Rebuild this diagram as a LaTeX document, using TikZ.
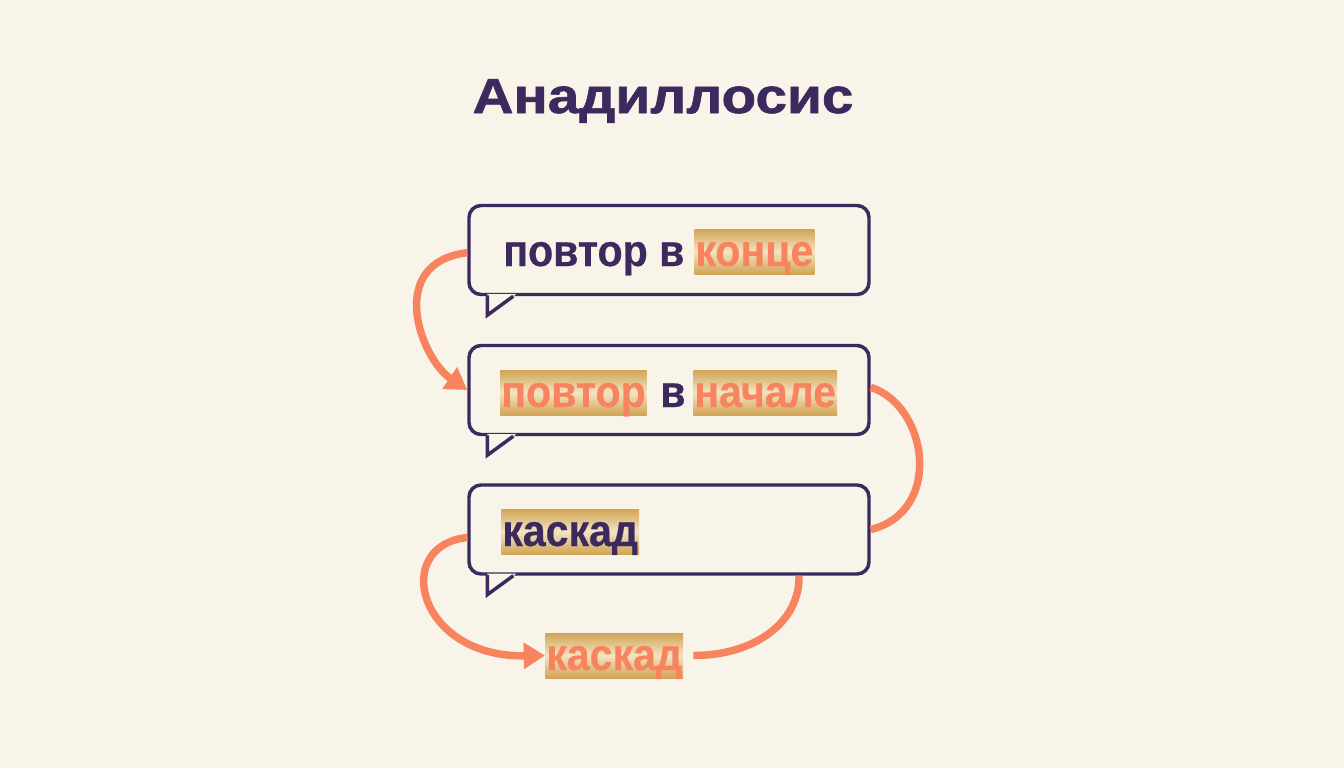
\documentclass[tikz,border=0pt]{standalone}
\usepackage{fontspec}
\setmainfont{Liberation Sans}
\newfontfamily\titlefont{Liberation Sans Bold}[FakeStretch=1.15,FakeBold=1.2]
\newfontfamily\boxfont{Liberation Sans Bold}[FakeStretch=0.92,FakeBold=0.5]
\usetikzlibrary{positioning,arrows.meta}

\definecolor{bgcol}{HTML}{F8F4E9}
\definecolor{ink}{HTML}{3C2A5E}
\definecolor{coral}{HTML}{F7845E}
\definecolor{gold}{HTML}{D1A455}
\definecolor{goldlight}{HTML}{F3E4C2}

\tikzset{
  bubble/.style={draw=ink,line width=2.6pt,rounded corners=9pt,fill=bgcol,
    minimum width=300pt,minimum height=66.75pt,inner sep=0pt},
  word/.style={text=ink,font=\boxfont\fontsize{33.5}{35}\selectfont,
    inner xsep=0.75pt,inner ysep=0pt,text height=27.75pt,text depth=6pt},
  hlword/.style={word,text=coral,top color=gold,bottom color=gold,middle color=goldlight},
  hlink/.style={hlword,text=ink},
  flow/.style={draw=coral,line width=5.6pt},
  flowtip/.style={flow,-{Triangle[length=16pt,width=19pt]}}
}

\begin{document}
\begin{tikzpicture}[x=0.75pt,y=0.75pt]
\useasboundingbox[fill=bgcol] (0,0) rectangle (1344,-768);

\node[text=ink,font=\titlefont\fontsize{37}{39}\selectfont,anchor=base] (title) at (663,-113) {Анадиллосис};

% speech bubbles
\node[bubble] (b1) at (669,-250) {};
\node[bubble] (b2) at (669,-390) {};
\node[bubble] (b3) at (669,-529.5) {};

\foreach \b in {b1,b2,b3}{
  \fill[bgcol] ([xshift=15pt,yshift=1.5pt]\b.south west) -- ([xshift=15pt,yshift=-14.25pt]\b.south west)
     -- ([xshift=36.6pt,yshift=1.5pt]\b.south west) -- cycle;
  \draw[ink,line width=2.6pt,line join=miter] ([xshift=15pt,yshift=0.6pt]\b.south west) -- ([xshift=15pt,yshift=-14.25pt]\b.south west)
     -- ([xshift=34.5pt]\b.south west);
}

% texts
\node[word,anchor=base west] (t1) at (502,-266) {повтор в};
\node[hlword,anchor=base west] (h1) at (694,-266) {конце};

\node[hlword,anchor=base west] (h2) at (500,-407) {повтор};
\node[word,anchor=base west] (t2) at (659,-407) {в};
\node[hlword,anchor=base west] (h3) at (693,-407) {начале};

\node[hlink,anchor=base west] (h4) at (501,-546) {каскад};

\node[hlword,anchor=base west] (k2) at (545,-670) {каскад};

% connectors
\draw[flowtip] ([yshift=-2pt]b1.west) .. controls +(-82,-10) and +(-47,32) .. (b2.west);
\draw[flow] ([yshift=2pt]b2.east) .. controls +(57,-18) and +(73,18) .. (b3.east);
\draw[flowtip] ([yshift=-6pt]b3.west) .. controls +(-76,-8) and +(-128,-2) .. (k2.west);
\draw[flow] ([xshift=7.5pt]k2.east) .. controls +(62,0) and +(1,-46) .. ([xshift=97.5pt]b3.south);
\end{tikzpicture}
\end{document}
